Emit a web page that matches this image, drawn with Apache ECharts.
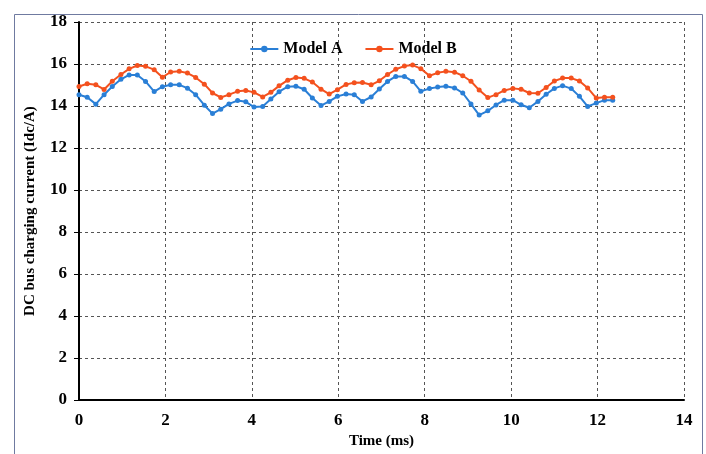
<!DOCTYPE html>
<html>
<head>
<meta charset="utf-8">
<script src="https://cdn.jsdelivr.net/npm/echarts@6/dist/echarts.min.js"></script>
<style>
  html, body { margin: 0; padding: 0; background: #fff; }
  #chart { width: 706px; height: 454px; }
</style>
</head>
<body>
<div id="chart"></div>
<script>
// time samples (ms)
const timeMs = [
  0, 0.19, 0.39, 0.58, 0.77, 0.97, 1.16, 1.35, 1.54, 1.74,
  1.93, 2.12, 2.32, 2.51, 2.70, 2.90, 3.09, 3.28, 3.47, 3.67,
  3.86, 4.05, 4.25, 4.44, 4.63, 4.83, 5.02, 5.21, 5.40, 5.60,
  5.79, 5.98, 6.18, 6.37, 6.56, 6.76, 6.95, 7.14, 7.33, 7.53,
  7.72, 7.91, 8.11, 8.30, 8.49, 8.69, 8.88, 9.07, 9.26, 9.46,
  9.65, 9.84, 10.04, 10.23, 10.42, 10.62, 10.81, 11.00, 11.19, 11.39,
  11.58, 11.77, 11.97, 12.16, 12.35
];

const modelA = [
  14.54, 14.42, 14.09, 14.54, 14.93, 15.27, 15.48, 15.48, 15.17, 14.69,
  14.92, 15.01, 15.01, 14.85, 14.54, 14.04, 13.64, 13.85, 14.10, 14.26,
  14.20, 13.95, 13.98, 14.33, 14.68, 14.92, 14.94, 14.80, 14.38, 14.02,
  14.22, 14.46, 14.57, 14.54, 14.22, 14.43, 14.81, 15.17, 15.41, 15.41,
  15.17, 14.70, 14.83, 14.90, 14.94, 14.86, 14.62, 14.10, 13.57, 13.77,
  14.05, 14.28, 14.28, 14.06, 13.92, 14.22, 14.56, 14.84, 14.97, 14.83,
  14.46, 13.98, 14.14, 14.28, 14.28
];

const modelB = [
  14.93, 15.06, 15.01, 14.79, 15.18, 15.50, 15.77, 15.93, 15.89, 15.73,
  15.37, 15.62, 15.65, 15.57, 15.36, 15.04, 14.62, 14.41, 14.54, 14.70,
  14.74, 14.65, 14.43, 14.65, 14.96, 15.23, 15.36, 15.32, 15.14, 14.80,
  14.57, 14.78, 15.03, 15.11, 15.12, 15.01, 15.20, 15.50, 15.75, 15.90,
  15.95, 15.78, 15.44, 15.58, 15.65, 15.61, 15.44, 15.18, 14.76, 14.40,
  14.54, 14.74, 14.84, 14.80, 14.62, 14.61, 14.88, 15.19, 15.33, 15.33,
  15.19, 14.86, 14.38, 14.42, 14.42
];

const seriesNames = ['Model A', 'Model B'];
const seriesColors = ['#2a7fd6', '#f4511e'];

const font = '"Liberation Serif", "Times New Roman", serif';

function pairs(values) {
  return values.map((v, i) => [timeMs[i], v]);
}

const chart = echarts.init(document.getElementById('chart'));

chart.setOption({
  animation: false,
  backgroundColor: '#fff',
  graphic: [{
    type: 'rect',
    left: 12,
    top: 12,
    shape: { width: 688, height: 448 },
    style: { fill: 'none', stroke: '#6f7aa0', lineWidth: 1 },
    silent: true,
  }],
  legend: {
    top: 36,
    left: 'center',
    itemWidth: 28,
    itemHeight: 8,
    itemGap: 22,
    textStyle: { fontFamily: font, fontWeight: 'bold', fontSize: 16, color: '#000' },
    data: seriesNames,
  },
  grid: { left: 79, right: 22, top: 22, bottom: 52 },
  xAxis: {
    type: 'value',
    min: 0,
    max: 14,
    interval: 2,
    name: 'Time (ms)',
    nameLocation: 'middle',
    nameGap: 30,
    nameTextStyle: { fontFamily: font, fontWeight: 'bold', fontSize: 15, color: '#000' },
    axisLine: { show: true, onZero: false, lineStyle: { color: '#000', width: 2 } },
    axisTick: { show: false },
    axisLabel: { margin: 12, fontFamily: font, fontWeight: 'bold', fontSize: 17, color: '#000' },
    splitLine: { show: true, lineStyle: { color: '#555', type: [3, 3], width: 1 } },
  },
  yAxis: {
    type: 'value',
    min: 0,
    max: 18,
    interval: 2,
    name: 'DC bus charging current (Idc/A)',
    nameLocation: 'middle',
    nameGap: 41,
    nameTextStyle: { fontFamily: font, fontWeight: 'bold', fontSize: 15, color: '#000' },
    axisLine: { show: true, lineStyle: { color: '#000', width: 2 } },
    axisTick: { show: true, length: 5, lineStyle: { color: '#000', width: 1 } },
    axisLabel: { margin: 12, fontFamily: font, fontWeight: 'bold', fontSize: 17, color: '#000' },
    splitLine: { show: true, lineStyle: { color: '#555', type: [3, 3], width: 1 } },
  },
  series: [modelA, modelB].map((values, k) => ({
    name: seriesNames[k],
    type: 'line',
    data: pairs(values),
    symbol: 'circle',
    symbolSize: 5,
    color: seriesColors[k],
    lineStyle: { width: 2, color: seriesColors[k] },
    itemStyle: { color: seriesColors[k] },
  })),
});
</script>
</body>
</html>
